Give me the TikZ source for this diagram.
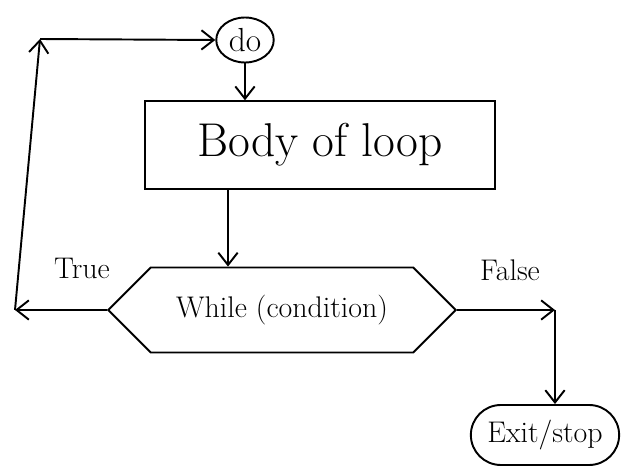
\documentclass[tikz,border=0pt]{standalone}
\usetikzlibrary{arrows.meta, shapes.geometric, shapes.symbols, shapes.misc}

\begin{document}
\begin{tikzpicture}[line width=1.1pt, >={Straight Barb[length=7pt,width=11pt]},
  lbl/.style={font=\fontsize{17}{20}\selectfont}]
\useasboundingbox (0,0) rectangle (12.6,9.4);

% blocks of the loop
\node[draw, ellipse, minimum width=1.15cm, minimum height=0.9cm, inner sep=0pt, font=\fontsize{19}{20}\selectfont] (do) at (4.9,8.6) {do};
\node[draw, minimum width=7cm, minimum height=1.75cm, font=\fontsize{27}{30}\selectfont] (body) at (6.4,6.5) {Body of loop};
\node[draw, signal, signal to=west and east, signal pointer angle=90, minimum width=6.95cm, minimum height=1.7cm, lbl] (cond) at (5.64,3.2) {While (condition)};
\node[draw, rounded rectangle, minimum width=3.2cm, minimum height=1.2cm, lbl] (exit) at (10.9,0.7) {Exit/stop};

% corners of the back edge and the exit edge
\coordinate (lx) at (0.3,0);
\coordinate (lb) at (cond.west -| lx);
\coordinate (lt) at (0.8,8.62);
\coordinate (fr) at ([xshift=0.2cm]cond.east -| exit.north);

\draw[->] (do.south) -- (do.south |- body.north);
\draw[->] ([xshift=-1.08cm]cond.north |- body.south) -- ([xshift=-1.08cm]cond.north);

% true: go round again
\draw[->] (cond.west) -- (lb);
\draw[->] (lb) -- (lt);
\draw[->] (lt) -- (do.west);
\node[lbl] (true) at (1.64,4.04) {True};

% false: leave the loop
\draw[->] (cond.east) -- (fr);
\draw[->] (fr) -- (fr |- exit.north);
\node[lbl] (false) at (10.2,4.0) {False};
\end{tikzpicture}
\end{document}
